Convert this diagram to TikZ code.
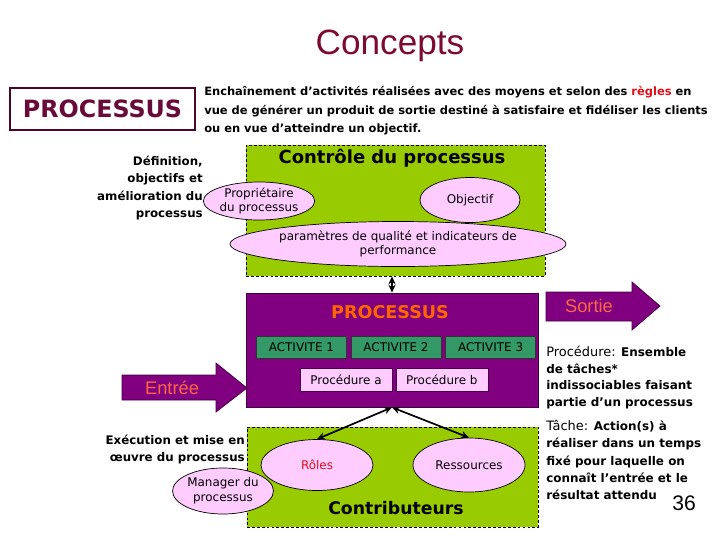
\documentclass[tikz,border=0pt]{standalone}
\usepackage{fontspec}
\setmainfont{DejaVu Sans}
\newfontfamily\arialfont{Liberation Sans}
\usepackage{xcolor}
\usetikzlibrary{positioning, arrows.meta, shapes.geometric}
\definecolor{zone}{HTML}{99CC00}
\definecolor{violetproc}{HTML}{800080}
\definecolor{rose}{HTML}{FFCCFF}
\definecolor{vertact}{HTML}{339966}
\definecolor{bordeaux}{HTML}{6A0A3A}
\definecolor{grenat}{HTML}{7D0A30}
\definecolor{orangeproc}{HTML}{FF6600}
\definecolor{saumon}{HTML}{FF6644}
\definecolor{rouge}{HTML}{E0101A}

\begin{document}
\begin{tikzpicture}[
    x=0.025cm, y=-0.025cm,
    txt/.style={inner sep=0pt, font=\fontsize{8.4}{12.2}\selectfont\bfseries},
    zonebox/.style={draw, line width=0.5pt, dash pattern=on 2pt off 1.5pt, fill=zone, inner sep=0pt},
    bubble/.style={ellipse, draw, line width=0.5pt, fill=rose, inner sep=0pt, align=center, font=\fontsize{8.5}{10.5}\selectfont},
    actbox/.style={draw=black!80, fill=vertact, minimum width=2.25cm, minimum height=0.55cm, inner sep=0pt, font=\fontsize{8.5}{10}\selectfont},
    procbox/.style={draw=violetproc!60!black, fill=rose, minimum width=2.3cm, minimum height=0.575cm, inner sep=0pt, font=\fontsize{8.5}{10}\selectfont},
    bigarrow/.style={fill=violetproc, draw=violetproc!50!black, line width=0.5pt},
    link/.style={{Stealth[length=2mm, width=1.8mm]}-{Stealth[length=2mm, width=1.8mm]}, line width=1.2pt}
]
\useasboundingbox (0,0) rectangle (720,540);
\node[inner sep=0pt, text=grenat, font=\arialfont\fontsize{25}{30}\selectfont] (title) at (390,46) {Concepts};
\node[draw=bordeaux!70!black, line width=0.8pt, fill=white, minimum width=4.625cm, minimum height=1.05cm, inner sep=0pt, text=bordeaux, font=\fontsize{16.9}{20}\selectfont\bfseries] (nom) at (102.5,109) {PROCESSUS};
\node[txt, anchor=west, align=left, font=\fontsize{8.15}{13.2}\selectfont\bfseries] (defin) at (204,111) {Enchaînement d’activités réalisées avec des moyens et selon des \textcolor{rouge}{règles} en\\vue de générer un produit de sortie destiné à satisfaire et fidéliser les clients\\ou en vue d’atteindre un objectif.};
\node[txt, anchor=east, align=right] (role1) at (203,188) {Définition,\\objectifs et\\amélioration du\\processus};

\node[zonebox, minimum width=7.475cm, minimum height=3.275cm] (ctrl) at (395.5,210.5) {};
\node[inner sep=0pt, font=\fontsize{12.8}{15}\selectfont\bfseries] (ctrltitle) at (392,158) {Contrôle du processus};
\node[bubble, minimum width=2.55cm, minimum height=0.95cm] (proprio) at (259,201) {Propriétaire\\du processus};
\node[bubble, minimum width=2.5cm, minimum height=1.125cm] (objectif) at (470,200) {Objectif};
\node[bubble, minimum width=7.325cm, minimum height=1.125cm] (param) at (398,244) {paramètres de qualité et indicateurs de\\performance};

\node[draw=violetproc!50!black, line width=0.5pt, fill=violetproc, minimum width=7.3cm, minimum height=2.85cm, inner sep=0pt] (proc) at (392,350) {};
\node[inner sep=0pt, text=orangeproc, font=\fontsize{12.5}{15}\selectfont\bfseries] (proctitle) at (390,312) {PROCESSUS};
\node[actbox] (act2) at (396,347) {ACTIVITE 2};
\node[actbox, left=0.1cm of act2] (act1) {ACTIVITE 1};
\node[actbox, right=0.1cm of act2] (act3) {ACTIVITE 3};
\node[procbox] (proca) at (346,379.5) {Procédure a};
\node[procbox, right=0.08cm of proca] (procb) {Procédure b};

\draw[link] (proc.north |- ctrl.south) -- (proc.north);

\draw[bigarrow] (546,292) -- (632,292) -- (632,282) -- (660,306) -- (632,330) -- (632,321) -- (546,321) -- cycle;
\node[inner sep=0pt, text=saumon, font=\arialfont\fontsize{13}{15}\selectfont] (sortie) at (589,306) {Sortie};
\draw[bigarrow] (122,375) -- (216,375) -- (216,363) -- (247,388) -- (216,412) -- (216,400) -- (122,400) -- cycle;
\node[inner sep=0pt, text=saumon, font=\arialfont\fontsize{13}{15}\selectfont] (entree) at (172,388) {Entrée};

\node[txt, anchor=west, align=left, font=\fontsize{8.5}{12}\selectfont\bfseries] (defproc) at (546,377.5) {{\mdseries\fontsize{9.2}{12}\selectfont Procédure:} Ensemble\\de tâches*\\indissociables faisant\\partie d’un processus};
\node[txt, anchor=west, align=left, font=\fontsize{8.5}{12.4}\selectfont\bfseries] (deftache) at (546,460) {{\mdseries\fontsize{9.2}{12.4}\selectfont Tâche:} Action(s) à\\réaliser dans un temps\\fixé pour laquelle on\\connaît l’entrée et le\\résultat attendu};
\node[inner sep=0pt, font=\arialfont\fontsize{15}{18}\selectfont] (page) at (684,503) {36};

\node[zonebox, minimum width=7.275cm, minimum height=2.5cm] (contrib) at (392.5,477) {};
\node[bubble, minimum width=2.8cm, minimum height=1.275cm, text=rouge] (roles) at (317,465) {Rôles};
\node[bubble, minimum width=2.8cm, minimum height=1.35cm] (ress) at (469,465) {Ressources};
\node[inner sep=0pt, font=\fontsize{12.3}{15}\selectfont\bfseries] (contribtitle) at (396,508) {Contributeurs};
\node[bubble, minimum width=2.5cm, minimum height=1.15cm] (manager) at (223,491) {Manager du\\processus};
\node[txt, anchor=east, align=right] (role2) at (245,449.5) {Exécution et mise en\\œuvre du processus};

\draw[link] (proc.south) -- (roles.north);
\draw[link] (proc.south) -- (ress.north);
\end{tikzpicture}
\end{document}
